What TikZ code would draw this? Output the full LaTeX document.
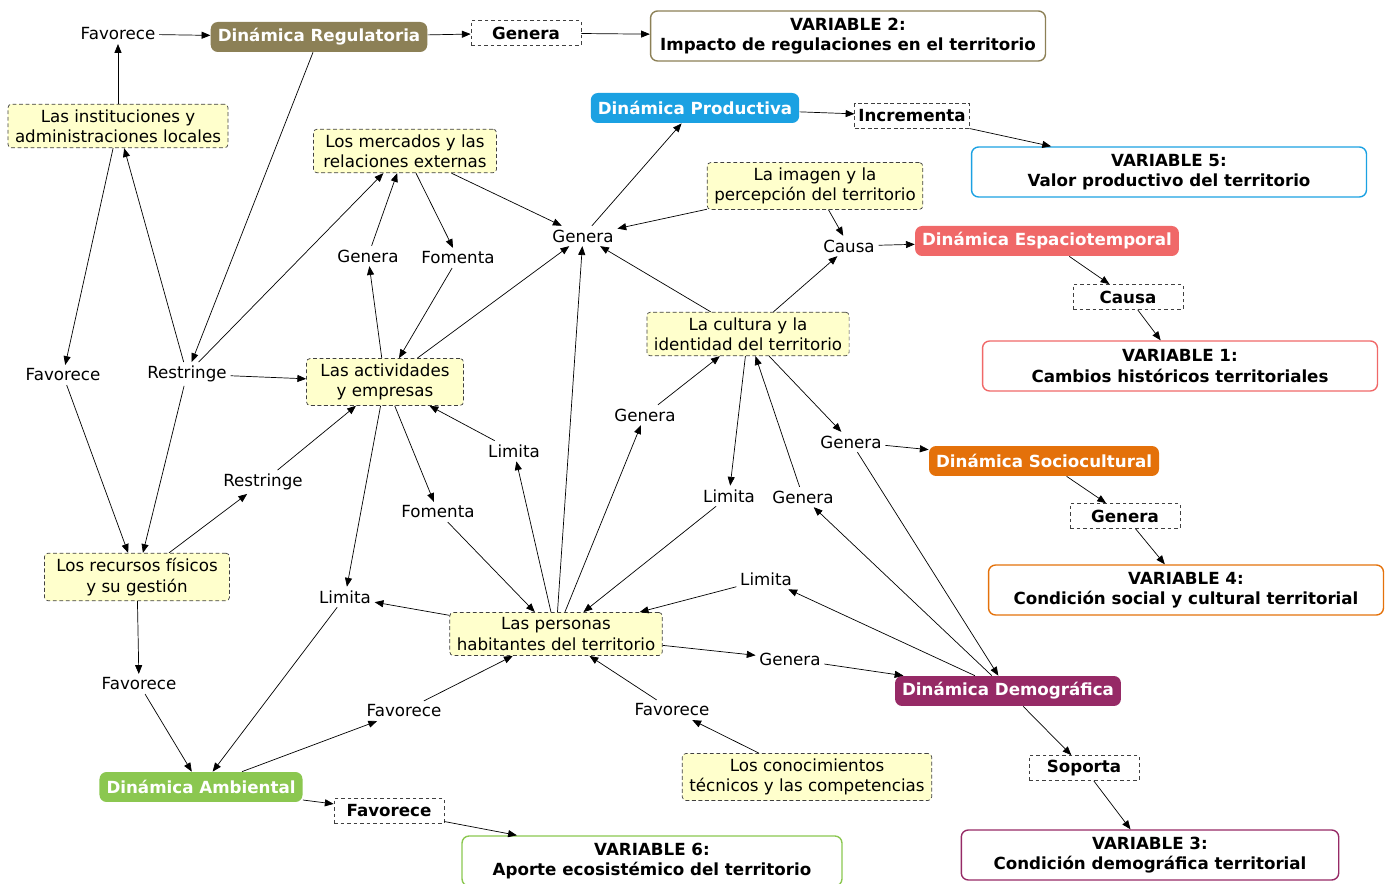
\documentclass[tikz,border=0pt]{standalone}
\usepackage{fontspec}
\setmainfont{DejaVu Sans}
\usetikzlibrary{arrows.meta}
\definecolor{regcol}{RGB}{140,128,86}
\definecolor{prodcol}{RGB}{27,161,226}
\definecolor{espcol}{RGB}{240,104,104}
\definecolor{soccol}{RGB}{228,113,10}
\definecolor{demcol}{RGB}{150,42,102}
\definecolor{ambcol}{RGB}{139,199,80}
\definecolor{yelfill}{RGB}{255,255,204}
\newcommand{\mapfont}{\fontsize{9.5pt}{11.5pt}\selectfont}
\begin{document}
\begin{tikzpicture}[x=0.02cm,y=-0.02cm,font=\mapfont,
  concepto/.style={draw=black!75,dash pattern=on 2.2pt off 1.5pt,fill=yelfill,rounded corners=2pt,align=center,inner xsep=4pt,inner ysep=3pt},
  dinamica/.style={fill=#1,text=white,font=\mapfont\bfseries,rounded corners=4pt,minimum height=0.6cm,inner xsep=4pt},
  enlace/.style={inner sep=2pt},
  enlaceb/.style={draw=black!75,dash pattern=on 2.2pt off 1.5pt,font=\mapfont\bfseries,minimum width=2.2cm,minimum height=0.5cm,inner sep=2pt},
  variable/.style={draw=#1,line width=0.8pt,rounded corners=4pt,align=center,font=\mapfont\bfseries,minimum width=7.9cm,minimum height=1cm},
  flecha/.style={-{Triangle[length=5pt,width=4pt]},black}]
\useasboundingbox (0,0) rectangle (1389,884);
% fila superior
\node[enlace] (fav1) at (118,34) {Favorece};
\node[dinamica=regcol] (dreg) at (319,37) {Dinámica Regulatoria};
\node[enlaceb] (gen1) at (526,33) {Genera};
\node[variable=regcol] (var2) at (848,36) {VARIABLE 2:\\Impacto de regulaciones en el territorio};
\node[concepto] (inst) at (118,126) {Las instituciones y\\administraciones locales};
\node[concepto,minimum width=3.66cm] (merc) at (405,151) {Los mercados y las\\relaciones externas};
\node[dinamica=prodcol] (dprod) at (695,108) {Dinámica Productiva};
\node[enlaceb] (incr) at (912,116) {Incrementa};
\node[variable=prodcol] (var5) at (1169,172) {VARIABLE 5:\\Valor productivo del territorio};
\node[concepto] (img) at (815,186) {La imagen y la\\percepción del territorio};
\node[enlace] (genC) at (583,236) {Genera};
\node[enlace] (causa1) at (849,246) {Causa};
\node[dinamica=espcol] (desp) at (1047,241) {Dinámica Espaciotemporal};
\node[enlaceb] (causa2) at (1128,297) {Causa};
\node[variable=espcol] (var1) at (1180,366) {VARIABLE 1:\\Cambios históricos territoriales};
% centro
\node[enlace] (genA) at (368,256) {Genera};
\node[enlace] (fomA) at (458,258) {Fomenta};
\node[concepto] (cult) at (748,334) {La cultura y la\\identidad del territorio};
\node[enlace] (fav2) at (63,375) {Favorece};
\node[enlace] (restr1) at (187,374) {Restringe};
\node[concepto,minimum width=3.14cm] (act) at (385,382) {Las actividades\\y empresas};
\node[enlace] (genB) at (645,415) {Genera};
\node[enlace] (lim1) at (514,451) {Limita};
\node[enlace] (genD) at (851,442) {Genera};
\node[dinamica=soccol] (dsoc) at (1044,461) {Dinámica Sociocultural};
\node[enlace] (restr2) at (263,482) {Restringe};
\node[enlace] (limE) at (729,496) {Limita};
\node[enlace] (genE) at (803,497) {Genera};
\node[enlace] (fomB) at (438,512) {Fomenta};
\node[enlaceb] (gen4) at (1125,516) {Genera};
\node[variable=soccol] (var4) at (1186,590) {VARIABLE 4:\\Condición social y cultural territorial};
\node[concepto,minimum width=3.7cm] (recur) at (137,577) {Los recursos físicos\\y su gestión};
\node[enlace] (limF) at (766,579) {Limita};
\node[enlace] (limG) at (345,597) {Limita};
\node[concepto] (pers) at (556,634) {Las personas\\habitantes del territorio};
\node[enlace] (genF) at (790,659) {Genera};
\node[dinamica=demcol] (ddem) at (1008,691) {Dinámica Demográfica};
% fila inferior
\node[enlace] (fav3) at (139,684) {Favorece};
\node[enlace] (fav4) at (404,711) {Favorece};
\node[enlace] (fav5) at (672,710) {Favorece};
\node[concepto] (conoc) at (807,777) {Los conocimientos\\técnicos y las competencias};
\node[enlaceb] (sop) at (1084,768) {Soporta};
\node[dinamica=ambcol] (damb) at (201,787) {Dinámica Ambiental};
\node[enlaceb] (fav6) at (389,811) {Favorece};
\node[variable=ambcol,minimum width=7.6cm] (var6) at (652,861) {VARIABLE 6:\\Aporte ecosistémico del territorio};
\node[variable=demcol,minimum width=7.55cm] (var3) at (1150,855) {VARIABLE 3:\\Condición demográfica territorial};
% conectores
\draw[flecha] (inst) edge (fav1) (fav1) edge (dreg) (dreg) edge (gen1) (gen1) edge (var2)
              (dreg) edge (restr1) (inst) edge (fav2) (restr1) edge (inst) (restr1) edge (merc)
              (restr1) edge (act) (restr1) edge (recur) (fav2) edge (recur)
              (recur) edge (restr2) (restr2) edge (act);
\draw[flecha] (act) edge (genA) (genA) edge (merc) (merc) edge (fomA) (fomA) edge (act)
              (act) edge (genC) (merc) edge (genC) (genC) edge (dprod) (dprod) edge (incr) (incr) edge (var5)
              (img) edge (genC) (img) edge (causa1) (causa1) edge (desp) (desp) edge (causa2) (causa2) edge (var1)
              (cult) edge (genC) (cult) edge (causa1);
\draw[flecha] (pers) edge (genC) (pers) edge (genB) (genB) edge (cult) (cult) edge (limE) (limE) edge (pers)
              (genE) edge (cult) (cult) edge (genD) (genD) edge (dsoc) (dsoc) edge (gen4) (gen4) edge (var4)
              (genD) edge (ddem) (ddem) edge (genE) (ddem) edge (limF) (limF) edge (pers)
              (pers) edge (genF) (genF) edge (ddem) (ddem) edge (sop) (sop) edge (var3);
\draw[flecha] (act) edge (limG) (act) edge (fomB) (fomB) edge (pers) (lim1) edge (act) (pers) edge (lim1)
              (pers) edge (limG) (limG) edge (damb) (recur) edge (fav3) (fav3) edge (damb)
              (damb) edge (fav4) (fav4) edge (pers) (conoc) edge (fav5) (fav5) edge (pers)
              (damb) edge (fav6) (fav6) edge (var6);
\end{tikzpicture}
\end{document}
